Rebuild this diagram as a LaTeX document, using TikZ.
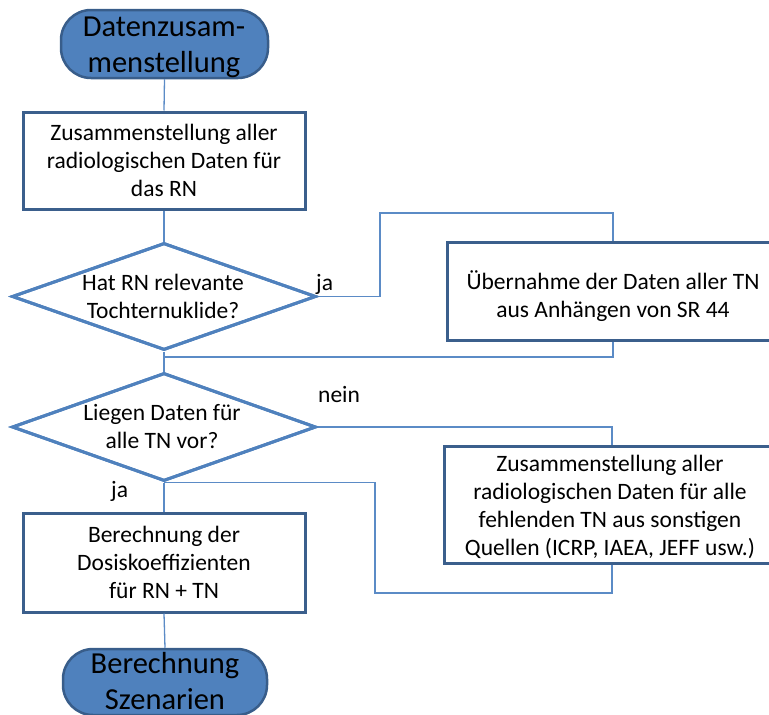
\documentclass[tikz,border=0pt]{standalone}
\usepackage{fontspec}
\setmainfont{Carlito}
\usetikzlibrary{shapes.geometric}
\definecolor{termfill}{HTML}{4F81BD}
\definecolor{termline}{HTML}{385D8A}
\definecolor{boxline}{HTML}{3B5F8C}
\definecolor{connline}{HTML}{5B8BC6}
\definecolor{diamline}{HTML}{4F81BD}
\tikzset{
  terminal/.style={draw=termline, line width=2.5pt, fill=termfill, rounded corners=30pt, inner sep=0pt},
  procbox/.style={draw=boxline, line width=3pt, fill=white, inner sep=0pt},
  decision/.style={diamond, draw=diamline, line width=3pt, fill=white, inner sep=0pt},
  conn/.style={draw=connline, line width=1.3pt},
  bigtxt/.style={align=center, inner sep=0pt, font=\fontsize{30.5}{36}\selectfont},
  boxtxt/.style={align=center, inner sep=0pt, font=\fontsize{23.5}{28}\selectfont},
  lbl/.style={inner sep=0pt, font=\fontsize{23.5}{28}\selectfont}
}
\begin{document}
\begin{tikzpicture}[x=1pt,y=-1pt]
\useasboundingbox (0,0) rectangle (769,715);
\clip (0,0) rectangle (769,715);

% main column shapes
\node[terminal, minimum width=207pt, minimum height=68pt] (start) at (164.5,44) {};
\node[procbox, minimum width=282pt, minimum height=97pt] (collect) at (164,160.5) {};
\node[decision, minimum width=304pt, minimum height=107pt] (hasdaughters) at (164,296.5) {};
\node[decision, minimum width=304pt, minimum height=108pt] (dataavail) at (164,427) {};
\node[procbox, minimum width=282pt, minimum height=99pt] (dosecoef) at (164,562.5) {};
\node[terminal, minimum width=204pt, minimum height=66pt] (scen) at (165,682) {};

% side boxes, running off the right edge
\node[procbox, minimum width=332pt, minimum height=98pt] (takeover) at (613,291) {};
\node[procbox, minimum width=336pt, minimum height=117pt] (missing) at (612,504.5) {};

% connectors
\coordinate (jaturn) at (380,213);
\coordinate (merge) at (164,357);
\coordinate (backturn) at (375,593);
\draw[conn] (start.south) -- (collect.north);
\draw[conn] (collect.south) -- (hasdaughters.north);
\draw[conn] (hasdaughters.east) -| (jaturn) -| (takeover.north);
\draw[conn] (takeover.south) |- (merge);
\draw[conn] (hasdaughters.south) -- (dataavail.north);
\draw[conn] (dataavail.east) -| (missing.north);
\draw[conn] (missing.south) |- (backturn) |- (dataavail.south);
\draw[conn] (dataavail.south) -- (dosecoef.north);
\draw[conn] (dosecoef.south) -- (scen.north);

% redraw shape outlines over connector ends
\node[decision, minimum width=304pt, minimum height=107pt, fill=none] at (hasdaughters) {};
\node[decision, minimum width=304pt, minimum height=108pt, fill=none] at (dataavail) {};

% texts
\node[bigtxt] (starttxt) at (164,47) {Datenzusam-\\menstellung};
\node[boxtxt] (collecttxt) at (164,160) {Zusammenstellung aller\\radiologischen Daten für\\das RN};
\node[boxtxt] (hasdaughterstxt) at (163,296) {Hat RN relevante\\Tochternuklide?};
\node[boxtxt] (takeovertxt) at (613,296) {Übernahme der Daten aller TN\\aus Anhängen von SR 44};
\node[boxtxt] (dataavailtxt) at (162,426) {Liegen Daten für\\alle TN vor?};
\node[boxtxt] (missingtxt) at (610,507) {Zusammenstellung aller\\radiologischen Daten für alle\\fehlenden TN aus sonstigen\\Quellen (ICRP, IAEA, JEFF usw.)};
\node[boxtxt] (dosecoeftxt) at (164,562) {Berechnung der\\Dosiskoeffizienten\\für RN + TN};
\node[bigtxt] (scentxt) at (165,681) {Berechnung\\Szenarien};

% branch labels
\node[lbl, anchor=base west] (yes1) at (316,290) {ja};
\node[lbl, anchor=base west] (no2) at (318,402) {nein};
\node[lbl, anchor=base west] (yes2) at (111,497) {ja};
\end{tikzpicture}
\end{document}
